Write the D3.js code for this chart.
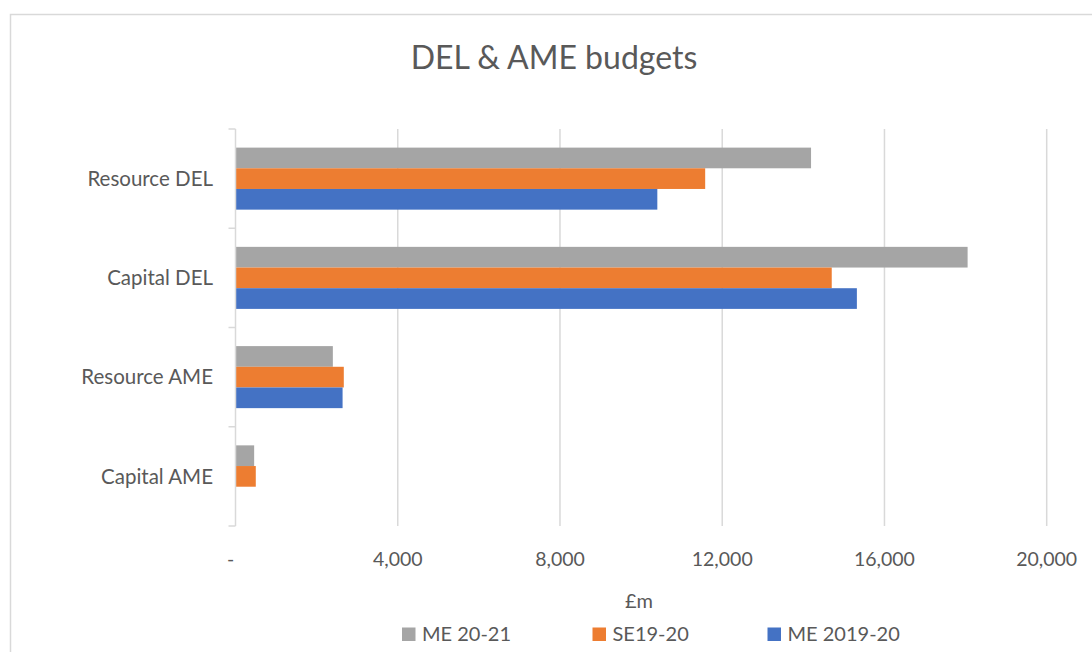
<!DOCTYPE html>
<html>
<head>
<meta charset="utf-8">
<script src="https://cdn.jsdelivr.net/npm/d3@7"></script>
<style>
  body { margin: 0; background: #fff; }
  text { font-family: Lato, "Open Sans", sans-serif; fill: #595959; }
</style>
</head>
<body>
<script>
// Data
var categories = ["Resource DEL", "Capital DEL", "Resource AME", "Capital AME"];
var seriesNames = ["ME 20-21", "SE19-20", "ME 2019-20"];
var seriesColors = ["#a5a5a5", "#ed7d31", "#4472c4"];
var me2021 = [14190, 18050, 2400, 460];
var se1920 = [11580, 14700, 2670, 500];
var me1920 = [10400, 15320, 2640, 0];
var tickValues = [0, 4000, 8000, 12000, 16000, 20000];

var w = 1092, h = 652;
var margin = {top: 129, left: 235.5, right: 45.3, bottom: 126};

var svg = d3.select("body").append("svg")
    .attr("width", w)
    .attr("height", h);

// chart frame
svg.append("rect")
    .attr("x", 10.5).attr("y", 14.5)
    .attr("width", w + 10).attr("height", h + 10)
    .attr("fill", "none")
    .attr("stroke", "#d9d9d9")
    .attr("stroke-width", 1.5);

var x = d3.scaleLinear()
    .domain([0, 20000])
    .range([margin.left, w - margin.right]);

var y = d3.scaleBand()
    .domain(categories)
    .range([margin.top, h - margin.bottom])
    .paddingInner(0.375)
    .paddingOuter(0.1875);

var y1 = d3.scaleBand()
    .domain(seriesNames)
    .range([0, y.bandwidth()]);

var rows = categories.map((c, i) => ({cat: c, vals: [me2021[i], se1920[i], me1920[i]]}));

// gridlines
svg.append("g")
  .selectAll("line")
  .data(tickValues.slice(1))
  .enter().append("line")
    .attr("x1", d => x(d)).attr("x2", d => x(d))
    .attr("y1", margin.top).attr("y2", h - margin.bottom)
    .attr("stroke", "#d9d9d9")
    .attr("stroke-width", 1.5);

// bars
var groups = svg.append("g")
  .selectAll("g")
  .data(rows)
  .enter().append("g")
    .attr("transform", d => `translate(0, ${y(d.cat)})`);

groups.selectAll("rect")
  .data(d => d.vals.map((v, j) => ({name: seriesNames[j], v: v, c: seriesColors[j]})))
  .enter().append("rect")
    .filter(d => d.v > 0)
    .attr("x", x(0))
    .attr("y", d => y1(d.name))
    .attr("width", d => x(d.v) - x(0))
    .attr("height", y1.bandwidth())
    .attr("fill", d => d.c);

// category axis line + ticks between categories
var step = y.step();
var axisG = svg.append("g");
axisG.append("line")
    .attr("x1", x(0)).attr("x2", x(0))
    .attr("y1", margin.top).attr("y2", h - margin.bottom)
    .attr("stroke", "#d9d9d9").attr("stroke-width", 1.5);
axisG.selectAll("line.tk")
  .data(d3.range(categories.length + 1))
  .enter().append("line")
    .attr("class", "tk")
    .attr("x1", x(0) - 7).attr("x2", x(0))
    .attr("y1", i => margin.top + i * step)
    .attr("y2", i => margin.top + i * step)
    .attr("stroke", "#d9d9d9").attr("stroke-width", 1.5);

axisG.selectAll("text")
  .data(categories)
  .enter().append("text")
    .attr("x", 213)
    .attr("y", d => y(d) + y.bandwidth() / 2)
    .attr("dy", "0.35em")
    .attr("text-anchor", "end")
    .style("font-size", "20.5px")
    .text(d => d);

// value tick labels
svg.append("g")
  .selectAll("text")
  .data(tickValues)
  .enter().append("text")
    .attr("x", d => d === 0 ? x(d) - 5 : x(d))
    .attr("y", 559)
    .attr("dy", "0.35em")
    .attr("text-anchor", "middle")
    .style("font-size", "19.5px")
    .text(d => d === 0 ? "-" : d3.format(",")(d));

// axis title
svg.append("text")
    .attr("x", 639).attr("y", 601)
    .attr("dy", "0.35em")
    .attr("text-anchor", "middle")
    .style("font-size", "20px")
    .text("£m");

// title
svg.append("text")
    .attr("x", 554).attr("y", 58)
    .attr("dy", "0.35em")
    .attr("text-anchor", "middle")
    .style("font-size", "32px")
    .text("DEL & AME budgets");

// legend
var legX = [402, 592.5, 767.5];
var leg = svg.append("g")
  .selectAll("g")
  .data(seriesNames)
  .enter().append("g")
    .attr("transform", (d, i) => `translate(${legX[i]}, 634)`);
leg.append("rect")
    .attr("x", 0).attr("y", -6.5)
    .attr("width", 13.5).attr("height", 13.5)
    .attr("fill", (d, i) => seriesColors[i]);
leg.append("text")
    .attr("x", 20).attr("y", 0)
    .attr("dy", "0.35em")
    .style("font-size", "20px")
    .text(d => d);
</script>
</body>
</html>
